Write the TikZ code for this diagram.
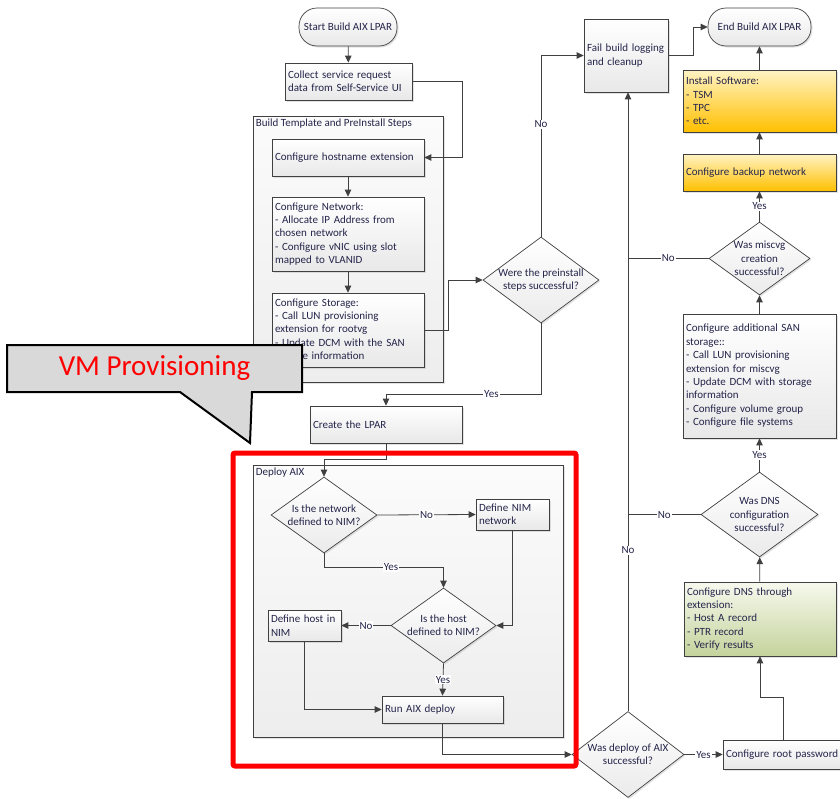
\documentclass[tikz,border=0pt]{standalone}
\usepackage{fontspec}
\setmainfont{Carlito}
\usetikzlibrary{arrows.meta,shapes.geometric,shadows,calc}
\definecolor{linec}{HTML}{404040}
\definecolor{txtc}{HTML}{24244A}
\definecolor{orgtop}{HTML}{FFF3C4}
\definecolor{orgbot}{HTML}{FFC000}
\definecolor{grntop}{HTML}{F7F9EE}
\definecolor{grnbot}{HTML}{C4D39C}
\definecolor{calfill}{HTML}{D9D9D9}
\newcommand\bodyfs{\fontsize{11}{13.4}\selectfont}
\begin{document}
\begin{tikzpicture}[x=1pt,y=-1pt,
  shad/.style={drop shadow={shadow xshift=1.5pt, shadow yshift=-1.5pt, opacity=0.22}},
  base/.style={draw=linec, line width=0.7pt, font=\bodyfs, text=txtc, inner xsep=3pt, inner ysep=2pt, shad},
  proc/.style={base, rectangle, top color=white, bottom color=gray!18, align=left},
  orng/.style={base, rectangle, top color=orgtop, bottom color=orgbot, align=left},
  grn/.style={base, rectangle, top color=grntop, bottom color=grnbot, align=left},
  term/.style={base, rectangle, rounded corners=18pt, top color=white, bottom color=gray!18, align=center},
  dec/.style={base, diamond, top color=white, bottom color=gray!16, inner sep=0pt},
  dlab/.style={font=\bodyfs, text=txtc, align=center},
  grp/.style={draw=linec, line width=0.7pt, top color=gray!3, bottom color=gray!14, shad},
  grplab/.style={font=\bodyfs, text=txtc, inner xsep=3pt, inner ysep=3pt},
  conn/.style={draw=linec, line width=0.8pt, -{Triangle[length=7pt,width=6.5pt]}},
  joinl/.style={draw=linec, line width=0.8pt},
  lab/.style={fill=white, inner sep=1pt, font=\bodyfs, text=txtc},
  redbox/.style={draw=red, line width=5pt, rounded corners=2pt},
  callout/.style={draw=black, line width=2pt, fill=calfill, line join=miter},
  calltext/.style={font=\fontsize{29}{33}\selectfont, text=red}
]
\useasboundingbox (0,0) rectangle (840,798);

% groups
\node[grp, minimum width=190pt, minimum height=266pt] (grp1) at (348,249) {};
\node[grplab, anchor=north west] (grp1lab) at (grp1.north west) {Build Template and PreInstall Steps};
\node[grp, minimum width=310pt, minimum height=272pt] (grp2) at (408,601) {};
\node[grplab, anchor=north west] (grp2lab) at (grp2.north west) {Deploy AIX};

% left column
\node[term, minimum width=98pt, minimum height=38pt] (start) at (348,27) {Start Build AIX LPAR};
\node[proc, minimum width=127pt, minimum height=37pt, text width=121pt] (collect) at (348.5,81.5) {Collect service request\\data from Self-Service UI};
\node[proc, minimum width=152pt, minimum height=37pt, text width=146pt] (hostname) at (348,157.5) {Configure hostname extension};
\node[proc, minimum width=152pt, minimum height=74pt, text width=146pt] (network) at (348,234) {Configure Network:\\- Allocate IP Address from\\chosen network\\- Configure vNIC using slot\\mapped to VLANID};
\node[proc, minimum width=152pt, minimum height=74pt, text width=146pt] (storage) at (348,330) {Configure Storage:\\- Call LUN provisioning\\extension for rootvg\\- Update DCM with the SAN\\storage information};
\node[dec, minimum width=116pt, minimum height=86pt, label={[dlab]center:Were the preinstall\\steps successful?}] (preq) at (541,280) {};
\node[proc, minimum width=152pt, minimum height=37pt, text width=146pt] (lpar) at (386,424.5) {Create the LPAR};

% deploy group
\node[dec, minimum width=106pt, minimum height=76pt, label={[dlab]center:Is the network\\defined to NIM?}] (netq) at (324,515) {};
\node[proc, minimum width=73pt, minimum height=31pt, text width=67pt] (defnet) at (512.5,514.5) {Define NIM\\network};
\node[dec, minimum width=105pt, minimum height=75pt, label={[dlab]center:Is the host\\defined to NIM?}] (hostq) at (443.5,625.5) {};
\node[proc, minimum width=73pt, minimum height=31pt, text width=67pt] (defhost) at (304.5,625.5) {Define host in\\NIM};
\node[proc, minimum width=121pt, minimum height=27pt, text width=115pt] (run) at (442.5,709.5) {Run AIX deploy};

% right part
\node[proc, minimum width=84pt, minimum height=73pt, text width=78pt] (fail) at (626,55.5) {Fail build logging\\and cleanup};
\node[term, minimum width=103pt, minimum height=38pt] (stop) at (759.5,27) {End Build AIX LPAR};
\node[orng, minimum width=153pt, minimum height=62pt, text width=147pt] (install) at (759.5,101) {Install Software:\\- TSM\\- TPC\\- etc.};
\node[orng, minimum width=153pt, minimum height=37pt, text width=147pt] (backup) at (759.5,172.5) {Configure backup network};
\node[dec, minimum width=101pt, minimum height=73pt, label={[dlab]center:Was miscvg\\creation\\successful?}] (miscvg) at (759.5,258.5) {};
\node[proc, minimum width=153pt, minimum height=124pt, text width=147pt] (sanadd) at (759.5,376) {Configure additional SAN\\storage::\\- Call LUN provisioning\\extension for miscvg\\- Update DCM with storage\\information\\- Configure volume group\\- Configure file systems};
\node[dec, minimum width=117pt, minimum height=85pt, label={[dlab]center:Was DNS\\configuration\\successful?}] (dnsq) at (759.5,514.5) {};
\node[grn, minimum width=152pt, minimum height=74pt, text width=146pt] (dnsbox) at (760,619) {Configure DNS through\\extension:\\- Host A record\\- PTR record\\- Verify results};
\node[proc, minimum width=120pt, minimum height=29pt, text width=114pt] (root) at (783,754.5) {Configure root password};
\node[dec, minimum width=112pt, minimum height=86pt, label={[dlab]center:Was deploy of AIX\\successful?}] (deployq) at (628,754.5) {};

\coordinate (k1) at (462,157.5);

% connectors
\draw[conn] (start) -- (collect);
\draw[conn] (collect.east) -| (k1) -- (hostname.east);
\draw[conn] (hostname) -- (network);
\draw[conn] (network) -- (storage);
\draw[conn] (storage.east) -- ++(24,0) |- (preq.west);
\draw[conn] (preq.north) |- node[lab, pos=0.31] {No} (fail.west);
\draw[conn] (fail.east) -- ++(25,0) |- (stop.west);
\draw[conn] (install) -- (stop);
\draw[conn] (backup) -- (install);
\draw[conn] (miscvg.north) -- node[lab] {Yes} (backup.south);
\draw[joinl] (miscvg.west) -- node[lab] {No} (miscvg.west -| deployq.north);
\draw[conn] (sanadd) -- (miscvg);
\draw[conn] (dnsq.north) -- node[lab] {Yes} (sanadd.south);
\draw[joinl] (dnsq.west) -- node[lab] {No} (dnsq.west -| deployq.north);
\draw[conn] (dnsbox) -- (dnsq);
\draw[conn] (root.north) -- ++(0,-42) -| (dnsbox.south);
\draw[conn] (deployq.east) -- node[lab] {Yes} (root.west);
\draw[conn] (deployq.north) -- node[lab, pos=0.26] {No} (deployq.north |- fail.south);
\draw[conn] (preq.south) -- ++(0,71) -| node[lab, pos=0.16] {Yes} (lpar.north);
\draw[conn] (lpar.south) -- ++(0,16) -| (netq.north);
\draw[conn] (netq.east) -- node[lab] {No} (defnet.west);
\draw[conn] (netq.south) -- ++(0,14) -| node[lab, pos=0.28] {Yes} (hostq.north);
\draw[conn] (defnet.south) |- (hostq.east);
\draw[conn] (hostq.west) -- node[lab] {No} (defhost.east);
\draw[conn] (hostq.south) -- node[lab] {Yes} (run.north);
\draw[conn] (defhost.south) |- (run.west);
\draw[conn] (run.south) |- (deployq.west);

% highlight and callout
\draw[redbox] (233,453) rectangle (576,766);
\draw[callout] (7,345) -- (302,345) -- (302,392) -- (252,392) -- (250,443) -- (180,392) -- (7,392) -- cycle;
\node[calltext] (vmprov) at (154.5,368.5) {VM Provisioning};
\end{tikzpicture}
\end{document}
